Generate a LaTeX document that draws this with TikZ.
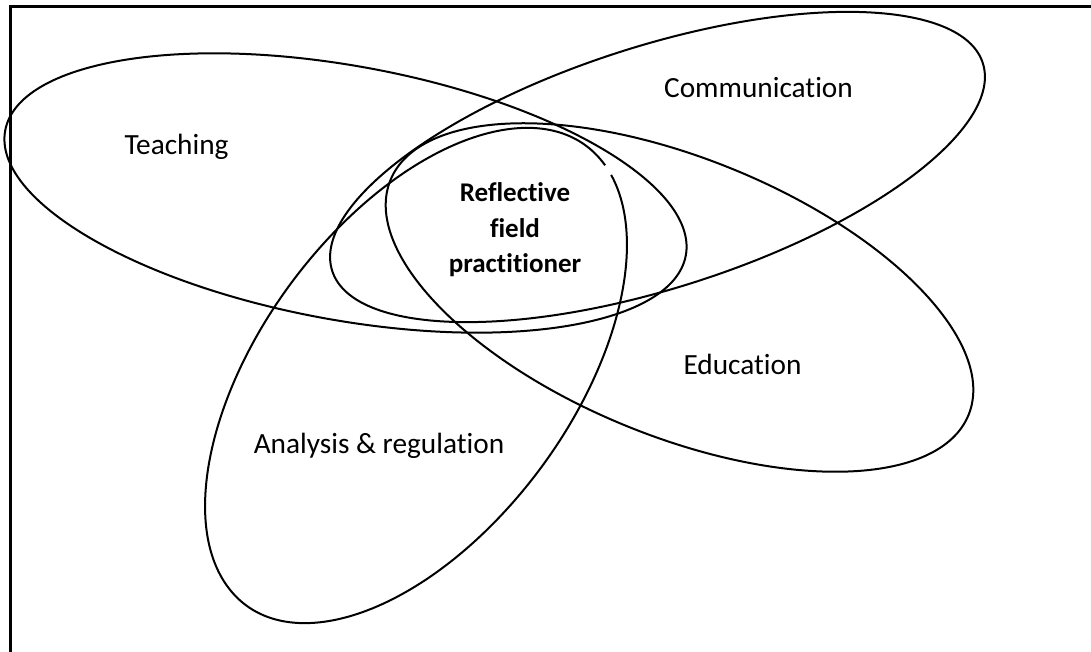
\documentclass[tikz,border=0pt]{standalone}
\usepackage{fontspec}
\setmainfont{Carlito}[Ligatures=NoCommon]
\begin{document}
\begin{tikzpicture}[x=1pt,y=1pt,
  ring/.style={line width=2pt},
  lbl/.style={font=\fontsize{29.3}{34}\selectfont, anchor=base, inner sep=0pt},
  core/.style={font=\fontsize{27}{32}\selectfont\bfseries, anchor=base, inner sep=0pt}]
\useasboundingbox (0,0) rectangle (1091,652);
% frame (top and left edges)
\draw[line width=3pt] (10,0) -- (10,645) -- (1091,645);
% Teaching
\draw[ring, rotate around={-10.4:(345.5,459)}] (345.5,459) ellipse [x radius=346, y radius=127];
% Education
\draw[ring, rotate around={-22.1:(679.5,354.5)}] (679.5,354.5) ellipse [x radius=312, y radius=139];
% Communication
\draw[ring, rotate around={17.7:(657.5,485)}] (657.5,485) ellipse [x radius=341.5, y radius=121];
% Analysis & regulation (with a small break near its upper right)
\begin{scope}[shift={(416,276.5)}, rotate=53.5]
  \draw[ring] (-10:285.8 and 155.3) arc[start angle=-10, end angle=346, x radius=285.8, y radius=155.3];
\end{scope}
% labels
\node[lbl] (teach) at (176.5,497) {Teaching};
\node[lbl] (comm) at (758.5,554) {Communication};
\node[lbl] (edu) at (742.5,277) {Education};
\node[lbl] (anal) at (379,198) {Analysis \& regulation};
\node[core] (c1) at (515,450) {Reflective};
\node[core] (c2) at (515,414) {field};
\node[core] (c3) at (515,379) {practitioner};
\end{tikzpicture}
\end{document}
